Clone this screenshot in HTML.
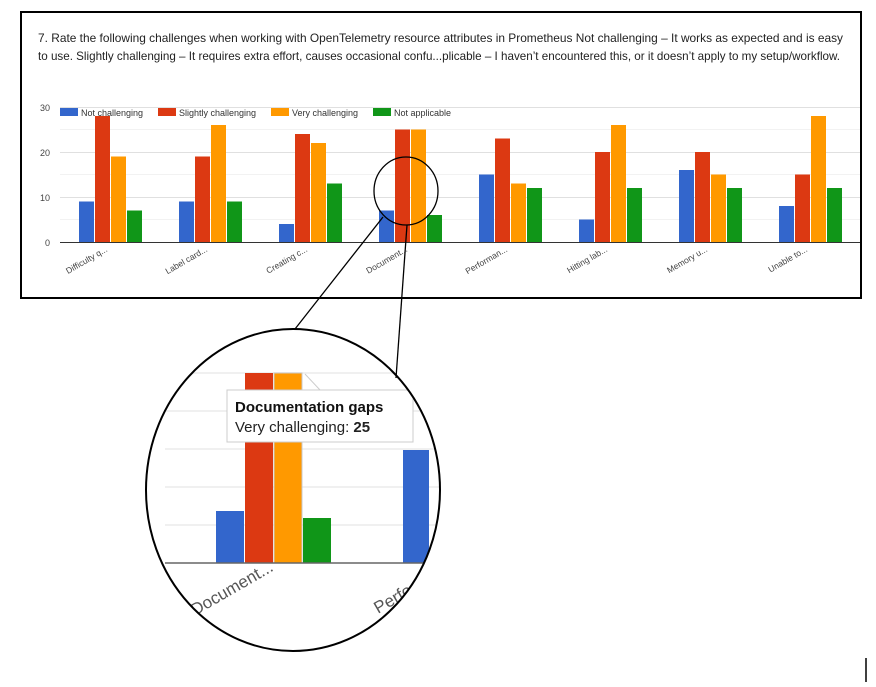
<!DOCTYPE html>
<html><head><meta charset="utf-8"><style>
body{margin:0;background:#fff;}
svg{display:block;font-family:"Liberation Sans",Arial,sans-serif;}
</style></head><body>
<svg width="876" height="687" viewBox="0 0 876 687" xmlns="http://www.w3.org/2000/svg">
<rect x="0" y="0" width="876" height="687" fill="#fff"/>
<rect x="21" y="12" width="840" height="286" fill="#fff" stroke="#000" stroke-width="2"/>
<text x="38" y="42" font-size="12" fill="#222" textLength="805" lengthAdjust="spacingAndGlyphs">7. Rate the following challenges when working with OpenTelemetry resource attributes in Prometheus    Not challenging – It works as expected and is easy</text>
<text x="38" y="60" font-size="12" fill="#222" textLength="802" lengthAdjust="spacingAndGlyphs">to use.  Slightly challenging – It requires extra effort, causes occasional confu...plicable – I haven’t encountered this, or it doesn’t apply to my setup/workflow.</text>
<g stroke="#f2f2f2" stroke-width="1">
<line x1="60" x2="860" y1="129.5" y2="129.5"/><line x1="60" x2="860" y1="174.5" y2="174.5"/><line x1="60" x2="860" y1="219.5" y2="219.5"/>
</g>
<g stroke="#e0e0e0" stroke-width="1">
<line x1="60" x2="860" y1="107.5" y2="107.5"/><line x1="60" x2="860" y1="152.5" y2="152.5"/><line x1="60" x2="860" y1="197.5" y2="197.5"/>
</g>
<g font-size="9" fill="#444" text-anchor="end">
<text x="50" y="111">30</text><text x="50" y="156">20</text><text x="50" y="201">10</text><text x="50" y="246">0</text>
</g>
<g>
<rect x="79" y="201.5" width="15" height="40.5" fill="#3366cc"/><rect x="95" y="116" width="15" height="126" fill="#dc3912"/><rect x="111" y="156.5" width="15" height="85.5" fill="#ff9900"/><rect x="127" y="210.5" width="15" height="31.5" fill="#109618"/>
<rect x="179" y="201.5" width="15" height="40.5" fill="#3366cc"/><rect x="195" y="156.5" width="15" height="85.5" fill="#dc3912"/><rect x="211" y="125" width="15" height="117" fill="#ff9900"/><rect x="227" y="201.5" width="15" height="40.5" fill="#109618"/>
<rect x="279" y="224" width="15" height="18" fill="#3366cc"/><rect x="295" y="134" width="15" height="108" fill="#dc3912"/><rect x="311" y="143" width="15" height="99" fill="#ff9900"/><rect x="327" y="183.5" width="15" height="58.5" fill="#109618"/>
<rect x="379" y="210.5" width="15" height="31.5" fill="#3366cc"/><rect x="395" y="129.5" width="15" height="112.5" fill="#dc3912"/><rect x="411" y="129.5" width="15" height="112.5" fill="#ff9900"/><rect x="427" y="215" width="15" height="27" fill="#109618"/>
<rect x="479" y="174.5" width="15" height="67.5" fill="#3366cc"/><rect x="495" y="138.5" width="15" height="103.5" fill="#dc3912"/><rect x="511" y="183.5" width="15" height="58.5" fill="#ff9900"/><rect x="527" y="188" width="15" height="54" fill="#109618"/>
<rect x="579" y="219.5" width="15" height="22.5" fill="#3366cc"/><rect x="595" y="152" width="15" height="90" fill="#dc3912"/><rect x="611" y="125" width="15" height="117" fill="#ff9900"/><rect x="627" y="188" width="15" height="54" fill="#109618"/>
<rect x="679" y="170" width="15" height="72" fill="#3366cc"/><rect x="695" y="152" width="15" height="90" fill="#dc3912"/><rect x="711" y="174.5" width="15" height="67.5" fill="#ff9900"/><rect x="727" y="188" width="15" height="54" fill="#109618"/>
<rect x="779" y="206" width="15" height="36" fill="#3366cc"/><rect x="795" y="174.5" width="15" height="67.5" fill="#dc3912"/><rect x="811" y="116" width="15" height="126" fill="#ff9900"/><rect x="827" y="188" width="15" height="54" fill="#109618"/>
</g>
<line x1="60" x2="860" y1="242.5" y2="242.5" stroke="#333" stroke-width="1"/>
<g font-size="9" fill="#333">
<rect x="60" y="108" width="18" height="8" fill="#3366cc"/><text x="81" y="116">Not challenging</text>
<rect x="158" y="108" width="18" height="8" fill="#dc3912"/><text x="179" y="116">Slightly challenging</text>
<rect x="271" y="108" width="18" height="8" fill="#ff9900"/><text x="292" y="116">Very challenging</text>
<rect x="373" y="108" width="18" height="8" fill="#109618"/><text x="394" y="116">Not applicable</text>
</g>
<g font-size="8.5" fill="#444" text-anchor="end">
<text transform="translate(108,251) rotate(-30)">Difficulty q...</text>
<text transform="translate(208,251) rotate(-30)">Label card...</text>
<text transform="translate(308,251) rotate(-30)">Creating c...</text>
<text transform="translate(408,251) rotate(-30)">Document...</text>
<text transform="translate(508,251) rotate(-30)">Performan...</text>
<text transform="translate(608,251) rotate(-30)">Hitting lab...</text>
<text transform="translate(708,251) rotate(-30)">Memory u...</text>
<text transform="translate(808,251) rotate(-30)">Unable to...</text>
</g>
<defs><clipPath id="cp"><ellipse cx="293" cy="490" rx="147" ry="161"/></clipPath></defs>
<g clip-path="url(#cp)">
<rect x="140" y="320" width="310" height="340" fill="#fff"/>
<g stroke="#ececec" stroke-width="1.5">
<line x1="165" x2="440" y1="373" y2="373"/><line x1="165" x2="440" y1="411" y2="411"/><line x1="165" x2="440" y1="449" y2="449"/><line x1="165" x2="440" y1="487" y2="487"/><line x1="165" x2="440" y1="525" y2="525"/>
</g>
<rect x="216" y="511" width="28" height="52" fill="#3366cc"/>
<rect x="245" y="373" width="28" height="190" fill="#dc3912"/>
<rect x="274" y="373" width="28" height="190" fill="#ff9900" stroke="#c8c8c8" stroke-width="1"/>
<rect x="303" y="518" width="28" height="45" fill="#109618"/>
<rect x="403" y="450" width="26" height="113" fill="#3366cc"/>
<line x1="165" x2="440" y1="563" y2="563" stroke="#666" stroke-width="1.5"/>
<text transform="translate(195,616) rotate(-30)" font-size="17" fill="#555">Document...</text>
<text transform="translate(378,614) rotate(-30)" font-size="17" fill="#555">Perfo</text>
<rect x="195" y="627" width="18" height="2" fill="#ddd"/>
<path d="M305 374 L320 390 L340 390" fill="none" stroke="#ccc" stroke-width="1"/>
<rect x="227" y="390" width="186" height="52" fill="#fff" stroke="#ccc" stroke-width="1"/>
<text x="235" y="412" font-size="15" font-weight="bold" fill="#111">Documentation gaps</text>
<text x="235" y="432" font-size="15" fill="#222">Very challenging: <tspan font-weight="bold">25</tspan></text>
</g>
<ellipse cx="293" cy="490" rx="147" ry="161" fill="none" stroke="#000" stroke-width="2"/>
<ellipse cx="406" cy="191" rx="32" ry="34" fill="none" stroke="#000" stroke-width="1.3"/>
<line x1="295" y1="329" x2="383" y2="217" stroke="#000" stroke-width="1.3"/>
<line x1="396" y1="378" x2="407" y2="225" stroke="#000" stroke-width="1.3"/>
<line x1="866" y1="658" x2="866" y2="682" stroke="#000" stroke-width="1.5"/>
</svg>
</body></html>
